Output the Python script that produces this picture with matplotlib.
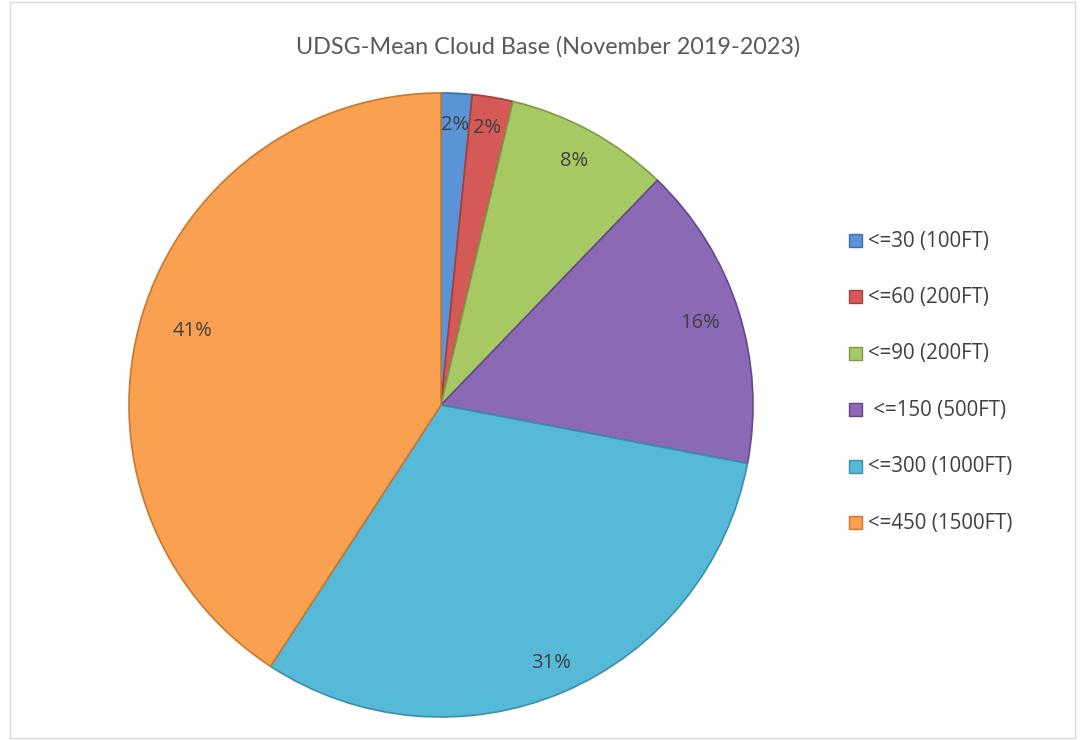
import matplotlib
matplotlib.use("Agg")
import matplotlib.pyplot as plt
import numpy as np
from matplotlib.patches import Rectangle

categories = ["<=30 (100FT)", "<=60 (200FT)", "<=90 (200FT)", " <=150 (500FT)",
              "<=300 (1000FT)", "<=450 (1500FT)"]
values = [1.6, 2.1, 8.5, 15.8, 31.2, 40.8]
colors = ["#5A93D6", "#D35A56", "#A7C963", "#8A6AB4", "#55B9D7", "#F9A150"]
edge_colors = ["#3E6FA8", "#A63E3B", "#7E9A45", "#66478A", "#3A8FAA", "#C7782F"]
title = "UDSG-Mean Cloud Base (November 2019-2023)"

W, H = 1081, 740
fig = plt.figure(figsize=(W / 100, H / 100), dpi=100)
fig.patch.set_facecolor("white")

# chart border
fig.patches.append(Rectangle((10 / W, 2 / H), 1065 / W, 736 / H, transform=fig.transFigure,
                             fill=False, edgecolor="#D9D9D9", linewidth=1))

cx, cy, r = 441, 405, 312
ax = fig.add_axes([(cx - r) / W, (H - cy - r) / H, 2 * r / W, 2 * r / H])
wedges, texts, autotexts = ax.pie(
    values, colors=colors, startangle=90, counterclock=False,
    autopct=lambda p: f"{p:.0f}%", pctdistance=0.88,
    wedgeprops=dict(linewidth=1.2),
    textprops=dict(fontsize=14.5, color="#404040", family="Open Sans"))
for w, ec in zip(wedges, edge_colors):
    w.set_edgecolor(ec)
# label distances
dists = [0.90, 0.90, 0.89, 0.87, 0.90, 0.83]
for w, t, d in zip(wedges, autotexts, dists):
    ang = np.deg2rad((w.theta1 + w.theta2) / 2)
    t.set_position((d * np.cos(ang), d * np.sin(ang)))
ax.set_xlim(-1, 1)
ax.set_ylim(-1, 1)
ax.set_aspect("equal")
ax.axis("off")

fig.text(548 / W, 1 - 47 / H, title, ha="center", va="center", fontsize=16.8,
         color="#595959", family="Lato")

# legend
y0, dy = 241, 56.4
for i, (lab, c, ec) in enumerate(zip(categories, colors, edge_colors)):
    y = y0 + i * dy
    fig.patches.append(Rectangle((849 / W, 1 - (y + 6) / H), 13 / W, 13 / H,
                                 transform=fig.transFigure, facecolor=c,
                                 edgecolor=ec, linewidth=1))
    fig.text(868 / W, 1 - y / H, lab, ha="left", va="center", fontsize=14.8,
             color="#404040", family="Open Sans")

fig.savefig("out.png", dpi=100)
